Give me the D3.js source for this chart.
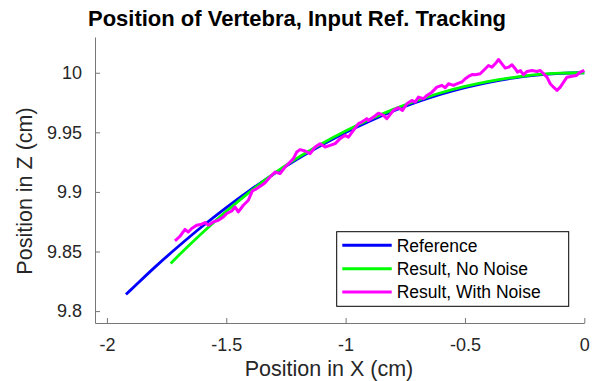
<!DOCTYPE html>
<html><head><meta charset="utf-8">
<script src="https://cdn.jsdelivr.net/npm/d3@7"></script>
<style>body{margin:0;background:#fff}svg{display:block}text{font-family:"Liberation Sans",Arial,Helvetica,sans-serif}</style>
</head><body>
<svg id="c" width="595" height="381"></svg>
<script>
// Reference: position on arc
const refX = [-1.92,-1.9,-1.8,-1.7,-1.6,-1.5,-1.4,-1.3,-1.2,-1.1,-1.0,-0.9,-0.8,-0.7,-0.6,-0.5,-0.4,-0.3,-0.2,-0.1,0];
const refZ = [9.8140,9.8178,9.8367,9.8544,9.8712,9.8869,9.9015,9.9151,9.9277,9.9393,9.9499,9.9594,9.9680,9.9755,9.9820,9.9875,9.9920,9.9955,9.9980,9.9995,10.0];
// Result, no noise
const noNoiseX = [-1.733,-1.7,-1.6,-1.5,-1.4,-1.3,-1.2,-1.1,-1.0,-0.9,-0.8,-0.7,-0.6,-0.5,-0.4,-0.3,-0.2,-0.1,0];
const noNoiseZ = [9.8400,9.8466,9.8658,9.8837,9.9003,9.9155,9.9288,9.9405,9.9511,9.9607,9.9693,9.9767,9.9832,9.9885,9.9928,9.9960,9.9984,9.9997,10.0];
// Result, with noise
const noiseX = [-1.7149,-1.6939,-1.6730,-1.6591,-1.6449,-1.6239,-1.6029,-1.5891,-1.5753,-1.5543,-1.5333,-1.5124,-1.4981,-1.4772,-1.4633,-1.4495,-1.4285,-1.4075,-1.3908,-1.3723,-1.3514,-1.3375,-1.3166,-1.2956,-1.2746,-1.2537,-1.2327,-1.2189,-1.2046,-1.1908,-1.1698,-1.1488,-1.1279,-1.1069,-1.0860,-1.0650,-1.0440,-1.0231,-1.0021,-0.9883,-0.9673,-0.9463,-0.9321,-0.9111,-0.9044,-0.8834,-0.8625,-0.8415,-0.8273,-0.7996,-0.7786,-0.7618,-0.7434,-0.7224,-0.7086,-0.6948,-0.6738,-0.6595,-0.6386,-0.6176,-0.5966,-0.5828,-0.5690,-0.5480,-0.5270,-0.5128,-0.4990,-0.4851,-0.4683,-0.4570,-0.4361,-0.4151,-0.4013,-0.3870,-0.3732,-0.3593,-0.3451,-0.3312,-0.3174,-0.3031,-0.2893,-0.2797,-0.2683,-0.2545,-0.2403,-0.2193,-0.1983,-0.1845,-0.1706,-0.1564,-0.1426,-0.1287,-0.1145,-0.1006,-0.0868,-0.0725,-0.0516,-0.0335,-0.0168,0.0];
const noiseZ = [9.8589,9.8628,9.8685,9.8664,9.8693,9.8721,9.8729,9.8743,9.8721,9.8748,9.8762,9.8790,9.8819,9.8840,9.8874,9.8832,9.8888,9.8930,9.9008,9.9028,9.9056,9.9077,9.9125,9.9167,9.9154,9.9209,9.9251,9.9279,9.9335,9.9355,9.9343,9.9321,9.9377,9.9405,9.9377,9.9391,9.9405,9.9447,9.9475,9.9460,9.9517,9.9573,9.9586,9.9615,9.9600,9.9628,9.9661,9.9642,9.9615,9.9684,9.9707,9.9684,9.9740,9.9768,9.9754,9.9796,9.9782,9.9810,9.9837,9.9879,9.9894,9.9874,9.9908,9.9894,9.9913,9.9922,9.9950,9.9969,9.9986,9.9983,9.9992,10.0034,10.0061,10.0047,10.0075,10.0111,10.0075,10.0039,10.0047,10.0067,10.0034,10.0005,10.0019,9.9983,10.0011,10.0019,10.0011,10.0019,9.9992,9.9963,9.9908,9.9879,9.9852,9.9879,9.9921,9.9963,9.9971,9.9977,10.0005,10.0019];
const xTicks = [-2,-1.5,-1,-0.5,0];
const xTickLabels = ["-2","-1.5","-1","-0.5","0"];
const yTicks = [9.8,9.85,9.9,9.95,10];
const yTickLabels = ["9.8","9.85","9.9","9.95","10"];
const seriesNames = ["Reference","Result, No Noise","Result, With Noise"];
const seriesColors = ["#0000ff","#00ff00","#ff00ff"];

const svg = d3.select("#c");
svg.append("rect").attr("width",595).attr("height",381).attr("fill","#fff");
const x = d3.scaleLinear().domain([-2.05,0]).range([95,584.3]);
const y = d3.scaleLinear().domain([9.79,10.03]).range([323,37]);

const series = [
  {xs:refX, zs:refZ},
  {xs:noNoiseX, zs:noNoiseZ},
  {xs:noiseX, zs:noiseZ}
];
const plot = svg.append("g");
series.forEach((s,i)=>{
  const line = d3.line().x(d=>x(d[0])).y(d=>y(d[1]))
    .curve(i===2 ? d3.curveLinear : d3.curveMonotoneX);
  plot.append("path")
    .datum(s.xs.map((v,j)=>[v,s.zs[j]]))
    .attr("d", line)
    .attr("fill","none").attr("stroke",seriesColors[i])
    .attr("stroke-width", i===2?3:2.8)
    .attr("stroke-linejoin","round").attr("stroke-linecap","butt");
});

const axisColor = "#777";
const gx = svg.append("g").attr("transform","translate(0,323)")
  .call(d3.axisBottom(x).tickValues(xTicks).tickFormat((d,i)=>xTickLabels[i]).tickSizeInner(-5).tickSizeOuter(0).tickPadding(15));
const gy = svg.append("g").attr("transform","translate(95,0)")
  .call(d3.axisLeft(y).tickValues(yTicks).tickFormat((d,i)=>yTickLabels[i]).tickSizeInner(-5).tickSizeOuter(0).tickPadding(13));
[gx,gy].forEach(g=>{
  g.select(".domain").attr("stroke",axisColor);
  g.selectAll(".tick line").attr("stroke",axisColor);
  g.selectAll(".tick text").attr("fill","#262626").style("font-size","18px").style("font-family","Liberation Sans, Arial, sans-serif");
});

svg.append("text").attr("x",297).attr("y",26).attr("text-anchor","middle")
  .style("font-size","22px").style("font-weight","bold").attr("fill","#000")
  .text("Position of Vertebra, Input Ref. Tracking");
svg.append("text").attr("x",329).attr("y",375.5).attr("text-anchor","middle")
  .style("font-size","21.5px").attr("fill","#262626").text("Position in X (cm)");
svg.append("text").attr("transform","translate(32,191) rotate(-90)").attr("text-anchor","middle")
  .style("font-size","21.5px").attr("fill","#262626").text("Position in Z (cm)");

// legend
const lg = svg.append("g");
lg.append("rect").attr("x",336.7).attr("y",231.7).attr("width",232).attr("height",74.6)
  .attr("fill","#fff").attr("stroke","#000").attr("stroke-width",1);
const rows = [245.3,268.7,292];
seriesNames.forEach((n,i)=>{
  lg.append("line").attr("x1",342.3).attr("x2",391.7).attr("y1",rows[i]).attr("y2",rows[i])
    .attr("stroke",seriesColors[i]).attr("stroke-width",3);
  lg.append("text").attr("x",396.7).attr("y",rows[i]).attr("dy","0.36em")
    .style("font-size","17.5px").attr("fill","#000").text(n);
});
</script>
</body></html>
